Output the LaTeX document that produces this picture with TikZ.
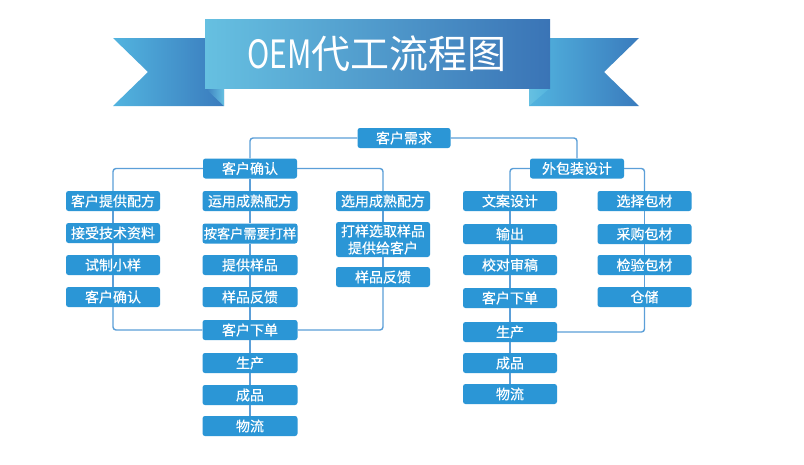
\documentclass[tikz,border=0pt]{standalone}
\usepackage{fontspec}
\usepackage{graphicx}
\setmainfont{Noto Sans CJK SC}
\newfontfamily\boxfont{Noto Sans CJK SC}[FakeBold=0.4]
\definecolor{boxblue}{HTML}{2B96D6}
\definecolor{lineblue}{HTML}{5B9FD8}
\definecolor{rlight}{HTML}{66C0E1}
\definecolor{rdark}{HTML}{3A74B6}
\definecolor{tlight}{HTML}{52B4DF}
\definecolor{tdark}{HTML}{3A7BBD}
\begin{document}
\begin{tikzpicture}[x=1pt,y=-1pt,
  box/.style={fill=boxblue, rounded corners=2.5pt, text=white, minimum width=94pt,
    minimum height=20pt, inner sep=0pt, font=\boxfont\fontsize{14}{17}\selectfont, align=center},
  conn/.style={draw=lineblue, line width=1.4pt, rounded corners=3pt}]
\useasboundingbox (0,0) rectangle (804,464);
\fill[white] (0,0) rectangle (804,464);
% ribbon
\shade[left color=tlight, right color=tdark] (113,38) -- (224,38) -- (224,106) -- (113,106) -- (148,72) -- cycle;
\shade[left color=tlight, right color=tdark] (529,38) -- (639,38) -- (604,72) -- (639,106) -- (529,106) -- cycle;
\shade[left color=tdark, right color=rlight] (205,88) -- (224,88) -- (224,106) -- cycle;
\shade[left color=rlight, right color=tlight] (550,88) -- (529,88) -- (529,106) -- cycle;
\shade[left color=rlight, right color=rdark] (205,19) rectangle (550,88);
\node[text=white, inner sep=0pt, font=\fontsize{39}{40}\selectfont] (title) at (377,54) {\scalebox{0.77}[1]{OEM}代工流程图};
% top
\node[box, minimum width=93pt] (xq) at (404,138) {客户需求};
\node[box] (qr) at (250,168.5) {客户确认};
\node[box] (wb) at (577,168.5) {外包装设计};
% left column
\node[box] (a1) at (113,201) {客户提供配方};
\node[box] (a2) at (113,233) {接受技术资料};
\node[box] (a3) at (113,265) {试制小样};
\node[box] (a4) at (113,297) {客户确认};
% middle column
\node[box, minimum width=95pt] (b1) at (250,201) {运用成熟配方};
\node[box, minimum width=95pt, font=\boxfont\fontsize{13.2}{17}\selectfont] (b2) at (250,233.5) {按客户需要打样};
\node[box, minimum width=95pt] (b3) at (250,265) {提供样品};
\node[box, minimum width=95pt] (b4) at (250,297) {样品反馈};
\node[box, minimum width=95pt] (b5) at (250,330) {客户下单};
\node[box, minimum width=95pt] (b6) at (250,363) {生产};
\node[box, minimum width=95pt] (b7) at (250,395) {成品};
\node[box, minimum width=95pt] (b8) at (250,426) {物流};
% third column
\node[box] (c1) at (383,201) {选用成熟配方};
\node[box, minimum height=35pt] (c2) at (383,239.5) {打样选取样品\\提供给客户};
\node[box] (c3) at (383,277) {样品反馈};
% packaging left
\node[box] (d1) at (510,201) {文案设计};
\node[box] (d2) at (510,234) {输出};
\node[box] (d3) at (510,265) {校对审稿};
\node[box] (d4) at (510,298) {客户下单};
\node[box] (d5) at (510,332) {生产};
\node[box] (d6) at (510,363) {成品};
\node[box] (d7) at (510,394) {物流};
% packaging right
\node[box] (e1) at (644.5,201) {选择包材};
\node[box] (e2) at (644.5,234) {采购包材};
\node[box] (e3) at (644.5,265) {检验包材};
\node[box] (e4) at (644.5,297) {仓储};
% connectors
\draw[conn] (xq.west) -| (qr.north);
\draw[conn] (xq.east) -| (wb.north);
\draw[conn] (qr.west) -| (a1.north);
\draw[conn] (qr.east) -| (c1.north);
\draw[conn] (wb.west) -| (d1.north);
\draw[conn] (wb.east) -| (e1.north);
\foreach \p/\q in {a1/a2,a2/a3,a3/a4,qr/b1,b1/b2,b2/b3,b3/b4,b4/b5,b5/b6,b6/b7,b7/b8,c1/c2,c2/c3,d1/d2,d2/d3,d3/d4,d4/d5,d5/d6,d6/d7,e1/e2,e2/e3,e3/e4}
  \draw[conn] (\p.south) -- (\q.north);
\draw[conn] (a4.south) |- (b5.west);
\draw[conn] (c3.south) |- (b5.east);
\draw[conn] (e4.south) |- (d5.east);
\end{tikzpicture}
\end{document}
